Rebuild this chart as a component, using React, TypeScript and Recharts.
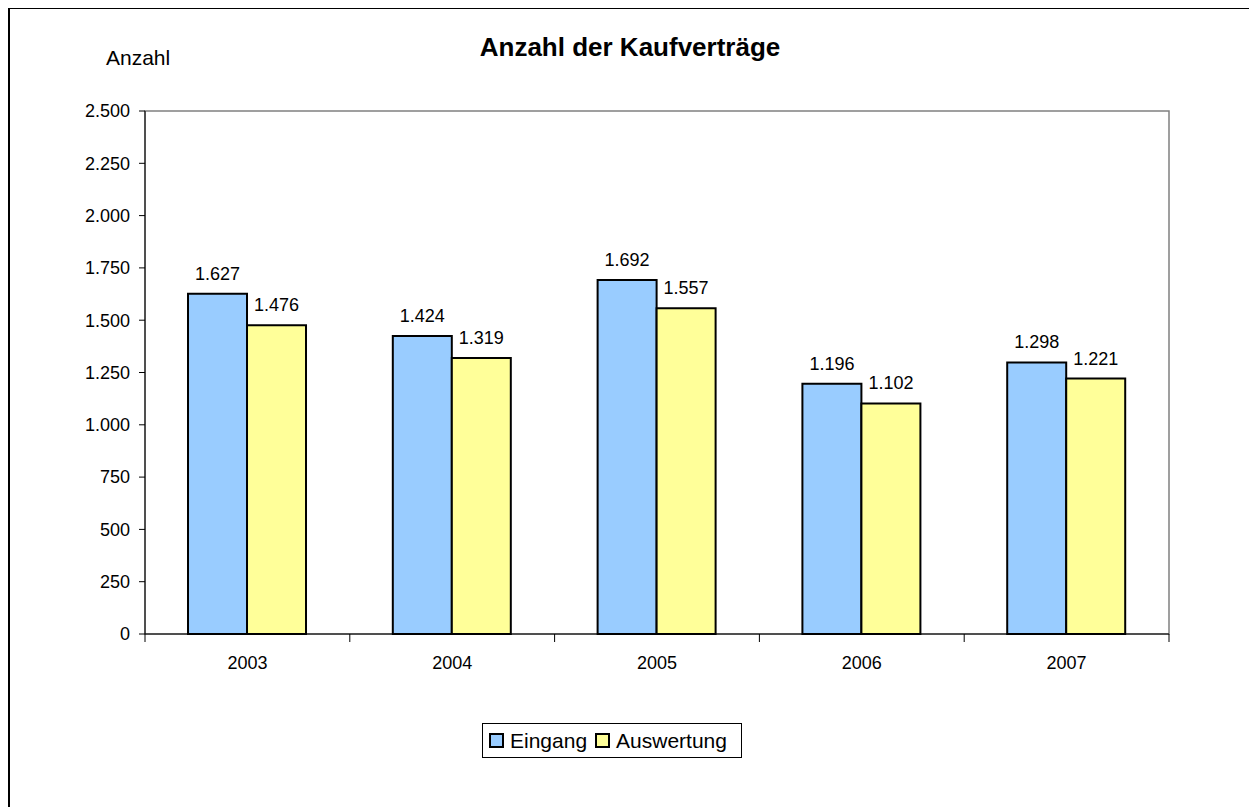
import React from 'react';
import {
  BarChart,
  Bar,
  XAxis,
  YAxis,
  Legend,
  LabelList,
  ReferenceArea
} from 'recharts';

const years = ['2003', '2004', '2005', '2006', '2007'];
const eingang = [1627, 1424, 1692, 1196, 1298];
const auswertung = [1476, 1319, 1557, 1102, 1221];
const yTicks = [0, 250, 500, 750, 1000, 1250, 1500, 1750, 2000, 2250, 2500];

const data = years.map((year, i) => ({
  year,
  Eingang: eingang[i],
  Auswertung: auswertung[i]
}));

const FONT = '"Liberation Sans", Arial, Helvetica, sans-serif';
const CHART_W = 1243;
const CHART_H = 798;
const MARGIN = { top: 102, right: 84, left: 75, bottom: 133 };
const Y_AXIS_W = 60;
const PLOT_W = CHART_W - MARGIN.left - Y_AXIS_W - MARGIN.right;
const BAND = PLOT_W / years.length;

// 1234 -> "1.234"
const fmt = (v: number) => String(v).replace(/\B(?=(\d{3})+(?!\d))/g, '.');

const colors = { Eingang: '#99CCFF', Auswertung: '#FFFF99' };

function YearTick(props: any) {
  const { x, y, payload, index } = props;
  const left = x - BAND / 2;
  return (
    <g>
      <line x1={left} y1={y} x2={left} y2={y + 8} stroke="#000" />
      {index === years.length - 1 && (
        <line x1={x + BAND / 2} y1={y} x2={x + BAND / 2} y2={y + 8} stroke="#000" />
      )}
      <text
        x={x}
        y={y + 29}
        textAnchor="middle"
        dominantBaseline="central"
        fontSize={18}
        fill="#000"
        fontFamily={FONT}
      >
        {payload.value}
      </text>
    </g>
  );
}

function LegendBox() {
  const item = (name: 'Eingang' | 'Auswertung') => (
    <span style={{ display: 'flex', alignItems: 'center', marginRight: 8 }}>
      <span
        style={{
          width: 11,
          height: 11,
          background: colors[name],
          border: '2px solid #000',
          marginRight: 6,
          display: 'inline-block'
        }}
      />
      {name}
    </span>
  );
  return (
    <div
      style={{
        display: 'flex',
        alignItems: 'center',
        border: '1px solid #000',
        background: '#fff',
        padding: '3px 6px 3px 6px',
        height: 27,
        fontSize: 21,
        fontFamily: FONT,
        color: '#000'
      }}
    >
      {item('Eingang')}
      {item('Auswertung')}
    </div>
  );
}

export default function App() {
  return (
    <div
      style={{
        position: 'relative',
        width: 1243,
        height: 805,
        border: '2px solid #000',
        marginTop: -1,
        background: '#fff',
        fontFamily: FONT
      }}
    >
      <div
        style={{
          position: 'absolute',
          left: 620 - 200,
          width: 400,
          top: 23,
          textAlign: 'center',
          fontSize: 26,
          fontWeight: 'bold',
          zIndex: 2
        }}
      >
        Anzahl der Kaufverträge
      </div>
      <div
        style={{
          position: 'absolute',
          left: 96,
          top: 37,
          fontSize: 21,
          zIndex: 2
        }}
      >
        Anzahl
      </div>
      <BarChart
        width={CHART_W}
        height={CHART_H}
        data={data}
        margin={MARGIN}
        barCategoryGap="21%"
        barGap={0}
      >
        <ReferenceArea y1={0} y2={2500} stroke="#808080" strokeWidth={1.5} fill="none" ifOverflow="visible" />
        <XAxis
          dataKey="year"
          height={40}
          axisLine={{ stroke: '#000' }}
          tickLine={false}
          tickSize={0}
          tickMargin={0}
          interval={0}
          tick={<YearTick />}
        />
        <YAxis
          width={Y_AXIS_W}
          domain={[0, 2500]}
          ticks={yTicks}
          interval={0}
          tickFormatter={fmt}
          axisLine={{ stroke: '#000' }}
          tickLine={{ stroke: '#000' }}
          tickSize={6}
          tickMargin={9}
          tick={{ fontSize: 18, fill: '#000', fontFamily: FONT }}
        />
        <Legend
          layout="horizontal"
          verticalAlign="middle"
          content={() => <LegendBox />}
          wrapperStyle={{ left: 472, top: 714, width: 'auto' }}
        />
        <Bar dataKey="Eingang" fill={colors.Eingang} stroke="#000" strokeWidth={2} isAnimationActive={false}>
          <LabelList
            dataKey="Eingang"
            position="top"
            offset={14}
            formatter={(v: any) => fmt(Number(v))}
            style={{ fontSize: 18, fill: '#000', fontFamily: FONT }}
          />
        </Bar>
        <Bar dataKey="Auswertung" fill={colors.Auswertung} stroke="#000" strokeWidth={2} isAnimationActive={false}>
          <LabelList
            dataKey="Auswertung"
            position="top"
            offset={14}
            formatter={(v: any) => fmt(Number(v))}
            style={{ fontSize: 18, fill: '#000', fontFamily: FONT }}
          />
        </Bar>
      </BarChart>
    </div>
  );
}
